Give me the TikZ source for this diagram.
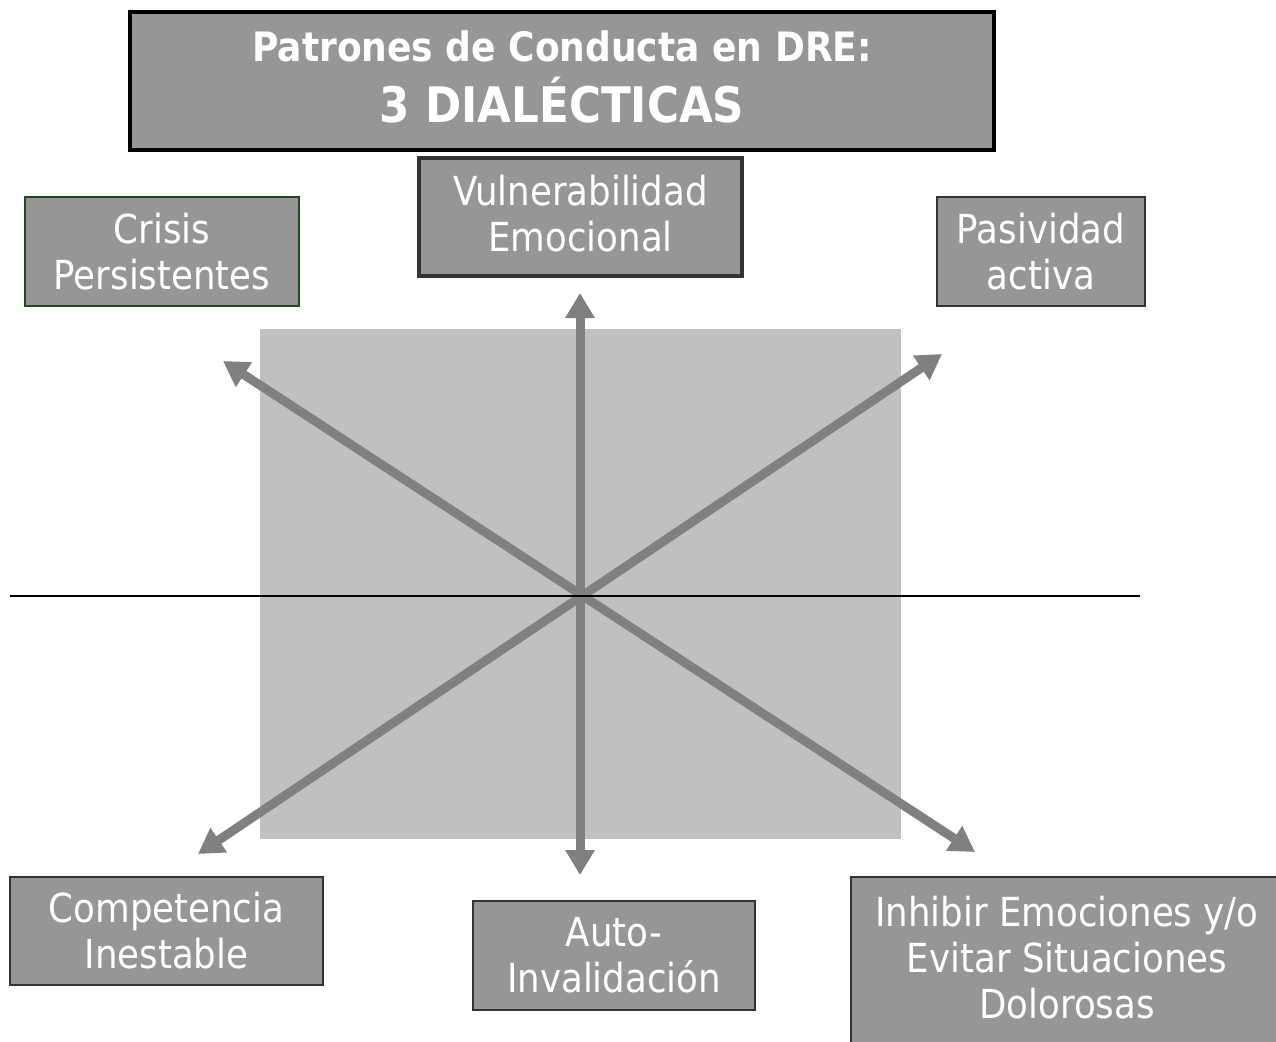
\documentclass[tikz,border=0pt]{standalone}
\usepackage{fontspec}
\setmainfont{DejaVu Sans}[FakeStretch=0.89]
\usetikzlibrary{arrows.meta}
\definecolor{boxfill}{HTML}{969696}
\definecolor{sqfill}{HTML}{C0C0C0}
\definecolor{arrgray}{HTML}{808080}
\definecolor{boxline}{HTML}{333333}
\definecolor{greenline}{HTML}{1E4A1E}
\begin{document}
\begin{tikzpicture}[x=1pt,y=-1pt,
  box/.style={draw=boxline, fill=boxfill, line width=2pt, text=white, align=center,
    font=\fontsize{40}{46}\selectfont, inner sep=0pt},
  boxtext/.style={text=white, align=center, font=\fontsize{40}{46}\selectfont, inner sep=0pt},
  arr/.style={draw=arrgray, line width=9pt, {Triangle[length=25pt,width=28pt]}-{Triangle[length=25pt,width=28pt]}},
  axis/.style={draw=black, line width=1.5pt}]
\useasboundingbox (0,0) rectangle (1276,1041);
\fill[white] (0,0) rectangle (1276,1041);
% grey square
\node[fill=sqfill, minimum width=641pt, minimum height=510pt, inner sep=0pt] (sq) at (580.5,584) {};
% title
\node[box, draw=black, line width=3.5pt, minimum width=864pt, minimum height=138pt, font=\bfseries] (title) at (562,81) {};
\node[text=white, align=center, font=\bfseries, inner sep=0pt, anchor=base] (titletext) at (562,122)
  {{\fontsize{40.5}{50}\selectfont Patrones de Conducta en DRE:}\\[13pt]{\fontsize{49}{59}\selectfont 3 DIALÉCTICAS}};
% boxes
\node[box, draw=greenline, minimum width=274pt, minimum height=109pt] (crisis) at (162,251.5) {Crisis\\Persistentes};
\node[box, line width=3.5pt, minimum width=323pt, minimum height=118pt, text depth=7pt] (vuln) at (580.5,217) {Vulnerabilidad\\Emocional};
\node[box, minimum width=208pt, minimum height=109pt] (pasiv) at (1041,251.5) {Pasividad\\activa};
\node[box, minimum width=313pt, minimum height=108pt] (comp) at (166.5,931) {Competencia\\Inestable};
\node[box, minimum width=282pt, minimum height=109pt] (auto) at (614,955.5) {Auto-\\Invalidación};
\node[box, minimum width=549pt, minimum height=223pt] (inhib) at (1125.5,988.5) {};
\node[boxtext] (inhibtext) at (1067,958) {Inhibir Emociones y/o\\Evitar Situaciones\\Dolorosas};
% arrows
\coordinate (c) at (580,596);
\coordinate (vt) at (580,293);
\coordinate (vb) at (580,875);
\coordinate (d1a) at (223,361);
\coordinate (d1b) at (975,852);
\coordinate (d2a) at (942,354);
\coordinate (d2b) at (198,854);
\draw[arr] (vt) -- (vb);
\draw[arr] (d1a) -- (d1b);
\draw[arr] (d2a) -- (d2b);
% horizontal axis
\coordinate (hl) at (10,596);
\coordinate (hr) at (1140,596);
\draw[axis] (hl) -- (hr);
\end{tikzpicture}
\end{document}
